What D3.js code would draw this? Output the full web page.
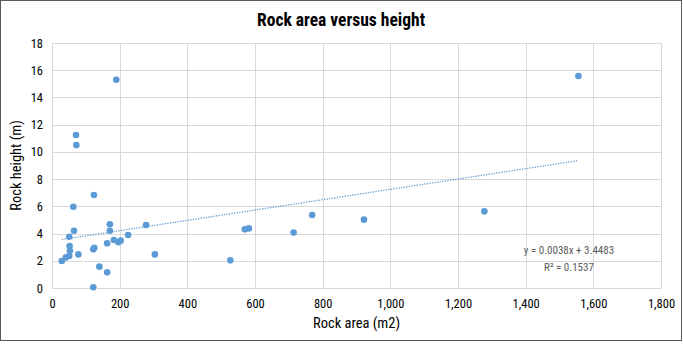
<!DOCTYPE html>
<html>
<head>
<meta charset="utf-8">
<script src="https://cdn.jsdelivr.net/npm/d3@7"></script>
<style>
  html, body { margin: 0; padding: 0; background: #fff; }
  svg { display: block; }
</style>
</head>
<body>
<svg id="chart" width="683" height="345"></svg>
<script>
const rockArea   = [29, 41, 51, 52, 53, 51, 63, 65, 71, 72, 78, 122, 122, 124, 125, 140, 163, 163, 171, 171, 183, 190, 196, 203, 225, 278, 304, 527, 570, 582, 714, 769, 922, 1278, 1556];
const rockHeight = [1.98, 2.25, 2.35, 3.08, 2.74, 3.77, 5.97, 4.21, 11.24, 10.5, 2.47, 0.05, 2.84, 6.83, 2.96, 1.57, 1.15, 3.28, 4.68, 4.21, 3.53, 15.3, 3.36, 3.48, 3.89, 4.63, 2.47, 2.03, 4.31, 4.38, 4.07, 5.36, 5.02, 5.63, 15.58];
const xTicks = [0, 200, 400, 600, 800, 1000, 1200, 1400, 1600, 1800];
const yTicks = [0, 2, 4, 6, 8, 10, 12, 14, 16, 18];
const trendSlope = 0.0038;
const trendIntercept = 3.4483;
const titleText = "Rock area versus height";
const xTitle = "Rock area (m2)";
const yTitle = "Rock height (m)";
const eqText = "y = 0.0038x + 3.4483";
const r2Text = "R² = 0.1537";

const svg = d3.select("#chart");
const font = "'Liberation Sans Narrow', 'Roboto Condensed', 'Arial Narrow', sans-serif";
const pLeft = 52, pRight = 661, pTop = 43, pBottom = 288;

svg.append("rect").attr("x", 0.5).attr("y", 0.5).attr("width", 681).attr("height", 340)
  .attr("fill", "#fff").attr("stroke", "#595959").attr("stroke-width", 1);

const x = d3.scaleLinear().domain([0, 1800]).range([pLeft, pRight]);
const y = d3.scaleLinear().domain([0, 18]).range([pBottom, pTop]);

// gridlines
svg.append("g").selectAll("line").data(xTicks).join("line")
  .attr("x1", d => Math.round(x(d)) + 0.5).attr("x2", d => Math.round(x(d)) + 0.5)
  .attr("y1", pTop).attr("y2", pBottom)
  .attr("stroke", "#d9d9d9").attr("stroke-width", 1);
svg.append("g").selectAll("line").data(yTicks).join("line")
  .attr("y1", d => Math.round(y(d)) + 0.5).attr("y2", d => Math.round(y(d)) + 0.5)
  .attr("x1", pLeft).attr("x2", pRight)
  .attr("stroke", "#d9d9d9").attr("stroke-width", 1);

// axes (labels only)
const fmt = d3.format(",");
const xAxis = svg.append("g").attr("transform", `translate(0,${pBottom})`)
  .call(d3.axisBottom(x).tickValues(xTicks).tickFormat(fmt).tickSize(0).tickPadding(11));
xAxis.select(".domain").remove();
xAxis.selectAll("text").attr("font-family", font).attr("font-size", 12.5).attr("fill", "#000");

const yAxis = svg.append("g").attr("transform", `translate(${pLeft},0)`)
  .call(d3.axisLeft(y).tickValues(yTicks).tickSize(0).tickPadding(9));
yAxis.select(".domain").remove();
yAxis.selectAll("text").attr("font-family", font).attr("font-size", 12.5).attr("fill", "#000");

// trendline
const xMin = d3.min(rockArea), xMax = d3.max(rockArea);
svg.append("line")
  .attr("x1", x(xMin)).attr("y1", y(trendSlope * xMin + trendIntercept))
  .attr("x2", x(xMax)).attr("y2", y(trendSlope * xMax + trendIntercept))
  .attr("stroke", "#5B9BD5").attr("stroke-width", 1.25).attr("stroke-dasharray", "1.3,1.3");

// points
svg.append("g").selectAll("circle").data(rockArea.map((d, i) => [d, rockHeight[i]])).join("circle")
  .attr("cx", d => x(d[0])).attr("cy", d => y(d[1])).attr("r", 3.3)
  .attr("fill", "#5B9BD5");

// titles
svg.append("text").attr("x", 341).attr("y", 26).attr("text-anchor", "middle")
  .attr("font-family", font).attr("font-size", 17.5).attr("font-weight", "bold").text(titleText);
svg.append("text").attr("x", (pLeft + pRight) / 2).attr("y", 328).attr("text-anchor", "middle")
  .attr("font-family", font).attr("font-size", 14.5).text(xTitle);
svg.append("text").attr("transform", `translate(21,${(pTop + pBottom) / 2}) rotate(-90)`)
  .attr("text-anchor", "middle").attr("font-family", font).attr("font-size", 14.5).text(yTitle);

// equation
const eqFont = "'Liberation Sans Narrow', 'Roboto Condensed', sans-serif";
svg.append("text").attr("x", 569).attr("y", 254).attr("text-anchor", "middle")
  .attr("font-family", eqFont).attr("font-size", 11)
  .attr("fill", "#595959").text(eqText);
svg.append("text").attr("x", 569).attr("y", 271).attr("text-anchor", "middle")
  .attr("font-family", eqFont).attr("font-size", 11)
  .attr("fill", "#595959").text(r2Text);
</script>
</body>
</html>
